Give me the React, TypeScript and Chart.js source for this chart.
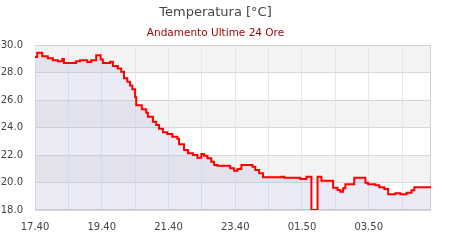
import React, { useEffect, useRef } from "react";
import { Chart, registerables } from "chart.js";

Chart.register(...registerables);

// minutes since 17:40
const minutes = [
  0, 4, 13, 23, 32, 41, 49, 52, 74, 81, 94, 101, 110, 118, 122, 135, 140, 149,
  155, 160, 166, 171, 175, 180, 182, 192, 200, 203, 212, 218, 223, 230, 238,
  247, 256, 259, 268, 275, 284, 292, 299, 304, 310, 317, 322, 328, 351, 358,
  364, 371, 391, 396, 403, 410, 443, 448, 477, 488, 497, 508, 515, 536, 544,
  549, 554, 558, 574, 594, 599, 612, 619, 628, 635, 648, 657, 668, 677, 682,
  712,
];
const temps = [
  29.13, 29.44, 29.18, 29.03, 28.89, 28.81, 28.98, 28.7, 28.81, 28.9, 28.76,
  28.9, 29.25, 28.95, 28.7, 28.79, 28.47, 28.3, 28.06, 27.58, 27.33, 27.05,
  26.78, 26.2, 25.62, 25.32, 25.08, 24.79, 24.42, 24.18, 23.91, 23.65, 23.53,
  23.33, 23.19, 22.78, 22.36, 22.12, 22.0, 21.8, 22.07, 21.95, 21.76, 21.51,
  21.27, 21.22, 21.03, 20.86, 20.98, 21.27, 21.15, 20.91, 20.67, 20.38, 20.42,
  20.35, 20.25, 20.42, 18.0, 20.42, 20.13, 19.62, 19.45, 19.33, 19.58, 19.87,
  20.35, 19.98, 19.87, 19.8, 19.65, 19.53, 19.14, 19.21, 19.14, 19.26, 19.43,
  19.65, 19.65,
];
const xTickLabels = ["17.40", "", "19.40", "", "21.40", "", "23.40", "", "01.50", "", "03.50", ""];
const xMax = 712;
const yMin = 18;
const yMax = 30;
const yStep = 2;
const bandRanges = [
  [28, 30],
  [24, 26],
  [20, 22],
];

const FONT = "'DejaVu Sans', Verdana, sans-serif";

const bandsPlugin = {
  id: "bands",
  beforeDraw(chart: any) {
    const { ctx, chartArea } = chart;
    const y = chart.scales.y;
    ctx.save();
    ctx.fillStyle = "#f3f3f3";
    for (const [a, b] of bandRanges) {
      const top = y.getPixelForValue(b);
      const bot = y.getPixelForValue(a);
      ctx.fillRect(chartArea.left, top, chartArea.right - chartArea.left, bot - top);
    }
    ctx.restore();
  },
  beforeDatasetsDraw(chart: any) {
    const { ctx, chartArea } = chart;
    ctx.save();
    ctx.strokeStyle = "#d0d0d0";
    ctx.lineWidth = 1;
    ctx.beginPath();
    ctx.moveTo(chartArea.left + 0.5, chartArea.top + 0.5);
    ctx.lineTo(Math.round(chartArea.right) - 0.5, chartArea.top + 0.5);
    ctx.lineTo(Math.round(chartArea.right) - 0.5, Math.round(chartArea.bottom) - 0.5);
    ctx.lineTo(chartArea.left + 0.5, Math.round(chartArea.bottom) - 0.5);
    ctx.stroke();
    ctx.restore();
  },
};

export default function App() {
  const ref = useRef<HTMLCanvasElement | null>(null);
  useEffect(() => {
    if (!ref.current) return;
    const data = minutes.map((m, i) => ({ x: m, y: temps[i] }));
    const chart = new Chart(ref.current, {
      type: "line",
      data: {
        datasets: [
          {
            data,
            borderColor: "#ff0000",
            borderWidth: 2,
            backgroundColor: "rgba(175,175,215,0.25)",
            fill: "start",
            pointRadius: 0,
            stepped: true,
            tension: 0,
          },
        ],
      },
      options: {
        animation: false,
        responsive: false,
        devicePixelRatio: 1,
        layout: { padding: { left: 0, right: 19, top: 0, bottom: 0 } },
        plugins: {
          legend: { display: false },
          tooltip: { enabled: false },
          title: {
            display: true,
            text: "Temperatura [°C]",
            color: "#444444",
            font: { family: FONT, size: 13, weight: "normal", lineHeight: 1.2 },
            padding: { top: 5, bottom: 0 },
          },
          subtitle: {
            display: true,
            text: "Andamento Ultime 24 Ore",
            color: "#990000",
            font: { family: FONT, size: 10.5, weight: "normal", lineHeight: 1.2 },
            padding: { top: 6.6, bottom: 5.2 },
          },
        },
        scales: {
          x: {
            type: "linear",
            min: 0,
            max: xMax,
            afterBuildTicks(scale: any) {
              scale.ticks = xTickLabels.map((_, i) => ({ value: i * 60 }));
            },
            afterFit(scale: any) {
              scale.height = 30;
            },
            grid: { color: "#e4e4f4", lineWidth: 1, drawTicks: false },
            border: { display: false },
            ticks: {
              autoSkip: false,
              maxRotation: 0,
              padding: 11,
              color: "#444444",
              font: { family: FONT, size: 10 },
              callback: (v: any) => xTickLabels[Math.round(Number(v) / 60)] ?? "",
            },
          },
          y: {
            min: yMin,
            max: yMax,
            afterFit(scale: any) {
              scale.width = 35;
            },
            grid: { color: "#d8d8d8", lineWidth: 1, drawTicks: false },
            border: { display: false },
            ticks: {
              stepSize: yStep,
              padding: 12,
              color: "#444444",
              font: { family: FONT, size: 10 },
              callback: (v: any) => Number(v).toFixed(1),
            },
          },
        },
      },
      plugins: [bandsPlugin],
    });
    return () => chart.destroy();
  }, []);
  return (
    <div style={{ position: "fixed", left: 0, top: 0, width: 450, height: 240, background: "#fff" }}>
      <canvas ref={ref} width={450} height={240} />
    </div>
  );
}
